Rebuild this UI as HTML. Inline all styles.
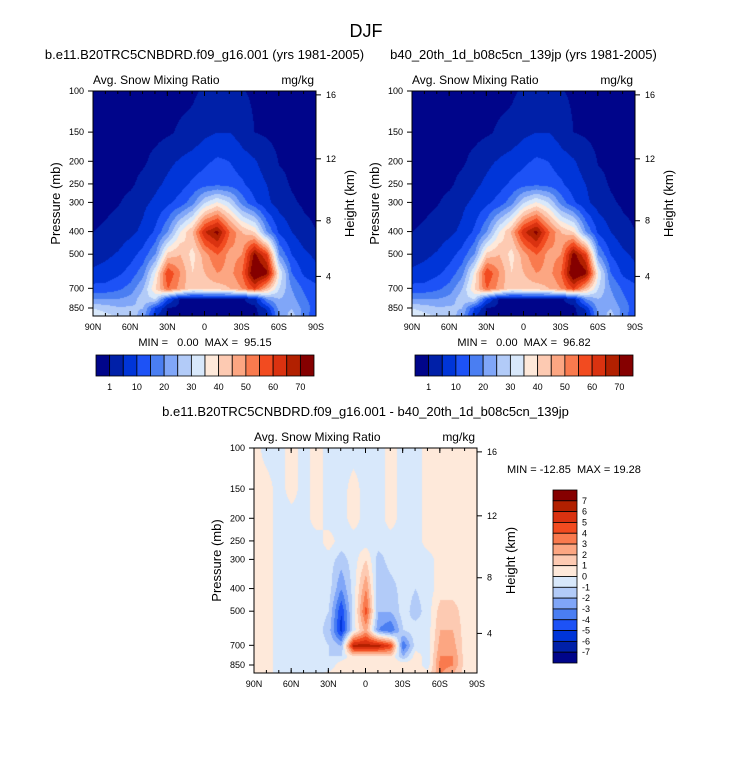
<!DOCTYPE html>
<html><head><meta charset="utf-8">
<style>
body{margin:0;background:#fff;width:733px;height:768px;overflow:hidden;position:relative;font-family:"Liberation Sans",sans-serif}
canvas,svg{position:absolute;left:0;top:0}
text{font-family:"Liberation Sans",sans-serif;fill:#000;white-space:pre}
</style></head>
<body>
<canvas id="cv" width="733" height="768"></canvas>
<svg id="sv" width="733" height="768"></svg>
<script>
// ---- data ----
const lats = [90,80,70,60,50,40,30,20,10,0,-10,-20,-30,-40,-50,-60,-70,-80,-90];
const pres = [100,150,200,250,300,400,500,600,700,775,850,925];
const fieldA = [
[0,0,0,0,0,0,0,0,0.5,1.5,2,2,1.2,0.5,0,0,0,0,0],
[0,0,0,0,0,0,0.5,1.5,2,4,5,5,3,1,0.5,0,0,0,0],
[0,0,0,0,0.5,2,4,5.5,7,9,11,10,7,5.5,3,0.8,0.3,0,0],
[0,0,0,0.5,2,4,6,8,11,13,14,13,11,7,5,2,0.7,0,0],
[0,0.3,0.8,2,4,6,9,12,18,30,36,30,18,11,6,3,1.5,0.5,0.2],
[1,1.5,2.5,4,6,11,20,35,45,65,72,55,45,40,20,9,5,2,1],
[3,4,5.5,8,12,20,42,45,38,48,55,48,50,72,60,20,10,6,4],
[6,7,9,12,18,35,60,50,40,45,50,48,55,78,72,35,15,9,6],
[12,12,14,17,25,40,55,48,40,42,42,45,50,60,45,30,20,14,12],
[20,20,20,22,28,30,10,0.5,0.5,0.5,0.5,0.5,0.5,3,20,25,22,16,12],
[30,28,26,26,25,10,0.5,0,0,0,0,0,0,0,6,22,25,18,12],
[35,32,30,28,22,5,0,0,0,0,0,0,0,0,2,20,28,18,10]];
const fieldB = [
[0,0,0,0,0,0,0,0,0.5,1.5,2,2,1.2,0.5,0,0,0,0,0],
[0,0,0,0,0,0,0.5,1.5,2,4,5,5,3,1,0.5,0,0,0,0],
[0,0,0,0,0.5,2,4,5.5,7,9,11,10,7,5.5,3,0.8,0.3,0,0],
[0,0,0,0.5,2,4,6,8,11,13,14,13,11,7,5,2,0.7,0,0],
[0,0.3,0.8,2,4,6,9,12,18,30,36,30,18,11,6,3,1.5,0.5,0.2],
[1,1.5,2.5,4,6,11,20,35,46,64,72,56,45,40,20,9,5,2,1],
[3,4,5.5,8,12,20,42,45,38,48,55,48,50,73,60,20,10,6,4],
[6,7,9,12,18,36,60,50,40,45,50,48,55,78,72,35,15,9,6],
[12,12,14,17,25,40,55,48,40,42,42,45,50,60,45,30,20,14,12],
[20,20,20,22,28,30,10,0.5,0.5,0.5,0.5,0.5,0.5,3,20,25,22,16,12],
[30,28,26,26,25,10,0.5,0,0,0,0,0,0,0,6,22,25,18,12],
[35,32,30,28,22,5,0,0,0,0,0,0,0,0,2,20,28,18,10]];
const fieldD = [
[0.5,-0.5,-0.5,0.5,-0.5,0.5,-0.5,-0.5,-0.5,-0.5,-0.5,0.5,-0.5,-0.5,0.5,0.5,0.5,0.5,0.5],
[0.5,0.5,-0.5,0.5,-0.5,0.5,-0.5,-0.5,0.5,-0.5,-0.5,0.5,-0.5,-0.5,0.5,0.5,0.5,0.5,0.5],
[0.5,0.5,-0.5,-0.5,-0.5,0.5,-0.5,-0.5,0.5,-0.5,-0.5,0.5,-0.5,-0.5,0.5,0.5,0.5,0.5,0.5],
[0.5,0.5,-0.5,-0.5,-0.5,-0.5,0.5,-0.5,-0.5,-0.5,-0.5,-0.5,-0.5,-0.5,0.5,0.5,0.5,0.5,0.5],
[0.5,0.5,-0.5,-0.5,-0.5,-0.5,-0.5,-1.5,-0.5,1,-1.5,-0.5,-0.5,-0.5,-0.5,0.5,0.5,0.5,0.5],
[0.5,0.5,-0.5,-0.5,-0.5,-0.5,-0.5,-3,-0.5,3,-2,-1.5,-0.5,-1,-0.5,0.5,0.5,0.5,0.5],
[0.5,0.5,-0.5,-0.5,-0.5,-0.5,-1,-5,-0.5,4.5,-2,-2,-0.5,-1.5,-0.5,1.5,1.5,0.5,0.5],
[0.5,0.5,-0.5,-0.5,-0.5,-0.5,-1.5,-5.5,-0.5,2.5,-3,-4,-1,-0.5,-0.5,2,2,0.5,0.5],
[0.5,0.5,-0.5,-0.5,-0.5,-0.5,-1,-2,6.5,6.5,6.5,5,-4,-0.5,-0.5,2.5,2.5,0.5,0.5],
[0.5,0.5,-0.5,-0.5,-0.5,-0.5,-1,-1,1,1,1,1,-2,0.5,-0.5,3,3,0.5,0.5],
[0.5,0.5,-0.5,-0.5,-0.5,-0.5,-1,1,0.5,0.5,0.5,0.5,1,0.5,-0.5,3.5,3,0.5,0.5],
[0.5,0.5,-0.5,-0.5,-0.5,-0.5,0.5,0.5,0.5,0.5,0.5,0.5,0.5,0.5,0.5,3,2,0.5,0.5]];
const levelsA = [1,5,10,15,20,25,30,35,40,45,50,55,60,65,70];
const levelsD = [-7,-6,-5,-4,-3,-2,-1,0,1,2,3,4,5,6,7];
const cbLabelsA = ["1","10","20","30","40","50","60","70"];
const cbLabelsD = ["7","6","5","4","3","2","1","0","-1","-2","-3","-4","-5","-6","-7"];
const colors = ["#00058a","#0020a8","#0035d8","#1d52f6","#4a7ef2","#80a6f8","#b2cbf8","#d8e8fb","#fee9da","#fdcab2","#fca682","#f97a4e","#f24b20","#da3210","#b22000","#850000"];
const xTicks = ["90N","60N","30N","0","30S","60S","90S"];
const pTicks = [100,150,200,250,300,400,500,700,850];
const hTicks = [4,8,12,16];

// ---- helpers ----
const PW=223, PH=225, LN100=Math.log(100), PXL=101.4;
const yOfP = p => (Math.log(p)-LN100)*PXL;
const pOfH = km => { const h=km*1000; return h<=11000 ? 1013.25*Math.pow(1-2.2558e-5*h,5.256) : 226.32*Math.exp(-(h-11000)/6341.6); };
const ctx = document.getElementById('cv').getContext('2d');
const sv = document.getElementById('sv');
const NS='http://www.w3.org/2000/svg';
function mk(tag, attrs, txt){const e=document.createElementNS(NS,tag);for(const k in attrs)e.setAttribute(k,attrs[k]);if(txt!==undefined)e.textContent=txt;sv.appendChild(e);return e;}
function colorFor(v, lv){let i=0;while(i<lv.length&&v>=lv[i])i++;return colors[i];}
function interp(field, lat, p){
  let fi=(90-lat)/10; fi=Math.max(0,Math.min(lats.length-1.0001,fi));
  const i=Math.floor(fi), tx=fi-i;
  const lp=Math.log(p); let j=0;
  while(j<pres.length-2 && Math.log(pres[j+1])<lp) j++;
  let ty=(lp-Math.log(pres[j]))/(Math.log(pres[j+1])-Math.log(pres[j])); ty=Math.max(0,Math.min(1,ty));
  const a=field[j][i],b=field[j][i+1],c=field[j+1][i],d=field[j+1][i+1];
  return (a*(1-tx)+b*tx)*(1-ty)+(c*(1-tx)+d*tx)*ty;
}
function panel(x0,y0,field,lv,title,name){
  for(let py=0;py<PH;py++){
    const p=Math.exp(LN100+py/PXL);
    for(let px=0;px<PW;px++){
      const lat=90-px/PW*180;
      ctx.fillStyle=colorFor(interp(field,lat,p),lv);
      ctx.fillRect(x0+px,y0+py,1,1);
    }
  }
  let r=mk('rect',{x:x0,y:y0,width:PW,height:PH,fill:'none',stroke:'#000','stroke-width':1});
  
  
  let t=mk('text',{x:x0+PW/2,y:y0-32,'font-size':13,'text-anchor':'middle'},title);
   
  t=mk('text',{x:x0,y:y0-7,'font-size':12},'Avg. Snow Mixing Ratio');
   
  t=mk('text',{x:x0+PW-2,y:y0-7,'font-size':12,'text-anchor':'end'},'mg/kg');
   
  xTicks.forEach((lab,k)=>{const x=x0+k*PW/6;
    mk('line',{x1:x,x2:x,y1:y0+PH,y2:y0+PH-5,stroke:'#000'});mk('line',{x1:x,x2:x,y1:y0,y2:y0+5,stroke:'#000'});
    t=mk('text',{x:x,y:y0+PH+14,'font-size':9,'text-anchor':'middle'},lab);
     });
  for(let k=0;k<=18;k++){const x=x0+k*PW/18;mk('line',{x1:x,x2:x,y1:y0+PH,y2:y0+PH-3,stroke:'#000'});mk('line',{x1:x,x2:x,y1:y0,y2:y0+3,stroke:'#000'});}
  pTicks.forEach(p=>{const y=y0+yOfP(p);mk('line',{x1:x0-5,x2:x0,y1:y,y2:y,stroke:'#000'});
    t=mk('text',{x:x0-9,y:y+3,'font-size':9,'text-anchor':'end'},String(p));
     });
  hTicks.forEach(h=>{const y=y0+yOfP(pOfH(h))+1;
    mk('line',{x1:x0+PW,x2:x0+PW+5,y1:y,y2:y,stroke:'#000'});
    t=mk('text',{x:x0+PW+10,y:y+3,'font-size':9},String(h));
     });
  t=mk('text',{x:x0-33,y:y0+PH/2,'font-size':13,'text-anchor':'middle',transform:`rotate(-90 ${x0-33} ${y0+PH/2})`},'Pressure (mb)');
   
  t=mk('text',{x:x0+PW+38,y:y0+PH/2,'font-size':13,'text-anchor':'middle',transform:`rotate(-90 ${x0+PW+38} ${y0+PH/2})`},'Height (km)');
   
}
function hbar(x0,y0,name){
  const w=218/16;
  colors.forEach((c,i)=>{const r=mk('rect',{x:x0+i*w,y:y0,width:w,height:21,fill:c,stroke:'#000','stroke-width':0.8});
     });
  cbLabelsA.forEach((l,k)=>{const bi= k===0?1:2*k+1;
    const t=mk('text',{x:x0+bi*w,y:y0+35,'font-size':9,'text-anchor':'middle'},l);
     });
}
let t=mk('text',{x:366,y:37,'font-size':18,'text-anchor':'middle'},'DJF');
 
panel(93,91,fieldA,levelsA,'b.e11.B20TRC5CNBDRD.f09_g16.001 (yrs 1981-2005)','left-panel');
panel(412,91,fieldB,levelsA,'b40_20th_1d_b08c5cn_139jp (yrs 1981-2005)','right-panel');
panel(254,448,fieldD,levelsD,'b.e11.B20TRC5CNBDRD.f09_g16.001 - b40_20th_1d_b08c5cn_139jp','diff-panel');
t=mk('text',{x:205,y:346,'font-size':11,'text-anchor':'middle'},'MIN =   0.00  MAX =  95.15');
 
t=mk('text',{x:524,y:346,'font-size':11,'text-anchor':'middle'},'MIN =   0.00  MAX =  96.82');
 
t=mk('text',{x:507,y:473,'font-size':11},'MIN = -12.85  MAX = 19.28');
 
hbar(96,355,'left-colorbar'); hbar(415,355,'right-colorbar');
// vertical colorbar
const vh=173/16;
colors.slice().reverse().forEach((c,i)=>{const r=mk('rect',{x:553,y:490+i*vh,width:24,height:vh,fill:c,stroke:'#000','stroke-width':0.8});
   });
cbLabelsD.forEach((l,k)=>{const tt=mk('text',{x:582,y:490+(k+1)*vh+3,'font-size':9},l);
   });
</script>
</body></html>
